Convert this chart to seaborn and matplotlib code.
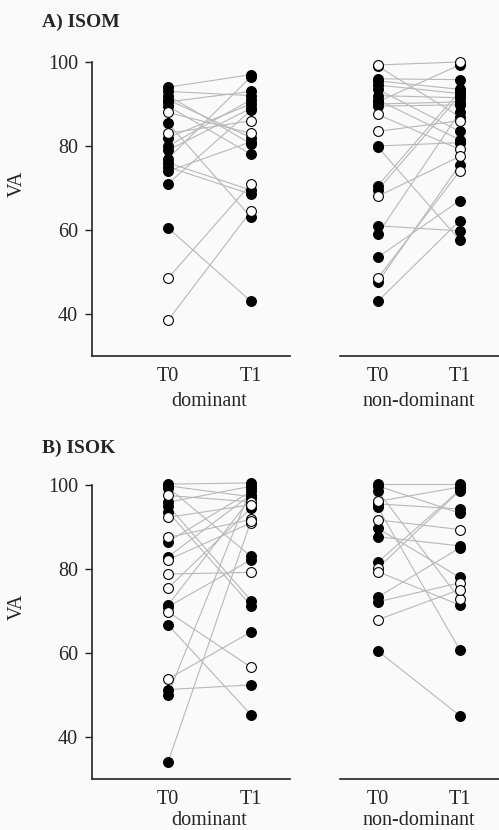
import numpy as np
import pandas as pd
import matplotlib
matplotlib.use('Agg')
import matplotlib.pyplot as plt
import seaborn as sns

times = ['T0', 'T1']
sides = ['dominant', 'non-dominant']

# A) ISOM - dominant
isom_dom_t0 = [94, 93, 92, 91, 90.5, 89.5, 88, 85.5, 83, 82, 80, 79, 77, 76, 75, 74, 71, 60.5, 48.5, 38.5]
isom_dom_t1 = [97, 92, 80.5, 82, 93, 78, 83, 63, 86, 90, 91, 89, 96.5, 69.5, 68.5, 81, 88.5, 43, 71, 64.5]
isom_dom_open0 = [0, 0, 0, 0, 0, 0, 1, 0, 1, 0, 0, 0, 0, 0, 0, 0, 0, 0, 1, 1]
isom_dom_open1 = [0, 0, 0, 0, 0, 0, 1, 0, 1, 0, 0, 0, 0, 0, 0, 0, 0, 0, 1, 1]

# A) ISOM - non-dominant
isom_nd_t0 = [99.3, 99, 96, 95.5, 94.5, 93.5, 92, 91, 90, 89.5, 87.5, 83.5, 80, 79.8,
              70.5, 69.5, 68, 61, 59, 53.5, 48.5, 47.5, 43, 90.5]
isom_nd_t1 = [100, 87, 95.8, 93.5, 92.5, 83.5, 91.5, 81.5, 90.5, 89.8, 79.2, 86, 80.8, 57.6,
              93, 92, 77.5, 59.8, 88, 67, 74, 75.5, 62.2, 99.3]
isom_nd_open0 = [1, 0, 0, 0, 0, 0, 0, 0, 0, 0, 1, 1, 0, 0, 0, 0, 1, 0, 0, 0, 1, 0, 0, 0]
isom_nd_open1 = [1, 0, 0, 0, 0, 0, 0, 0, 0, 0, 1, 1, 0, 0, 0, 0, 1, 0, 0, 0, 1, 0, 0, 0]

# B) ISOK - dominant
isok_dom_t0 = [100.2, 99.4, 97.5, 95.9, 95.1, 93.6, 92.3, 87.5, 86.5, 82.9, 82.2, 78.8,
               75.4, 71.4, 71, 69.8, 66.7, 53.8, 51.3, 50, 34, 99.8]
isok_dom_t1 = [100.5, 83, 96, 99.7, 72.5, 71.3, 95.3, 91.8, 98.5, 97.7, 91, 79.2,
               94.5, 97, 82.2, 56.6, 45.3, 65, 52.4, 99.2, 91.5, 97.2]
isok_dom_open0 = [0, 0, 1, 0, 0, 0, 1, 1, 0, 0, 1, 1, 1, 0, 0, 1, 0, 1, 0, 0, 0, 0]
isok_dom_open1 = [0, 0, 1, 0, 0, 0, 1, 1, 0, 0, 1, 1, 0, 0, 0, 1, 0, 0, 0, 0, 1, 0]

# B) ISOK - non-dominant
isok_nd_t0 = [100.2, 99.8, 98.6, 96.1, 95.5, 94.7, 91.7, 89.7, 87.7, 81.6, 80.2, 79.4, 73.3, 72.2, 67.9, 60.5]
isok_nd_t1 = [100.2, 93.3, 72.9, 99.5, 94.3, 60.8, 89.4, 78, 85.5, 98.8, 98.6, 71.4, 85, 76.7, 75.1, 45.1]
isok_nd_open0 = [0, 0, 0, 1, 0, 0, 1, 0, 0, 0, 1, 1, 0, 0, 1, 0]
isok_nd_open1 = [0, 0, 1, 0, 0, 0, 1, 0, 0, 0, 0, 0, 0, 1, 1, 0]

sns.set_style('white')
plt.rcParams['font.family'] = ['Liberation Serif', 'DejaVu Serif']
FS = 14.5

H = 830.0
W = 499.0
AX_PX = 72 * 4.2  # axes height in pixels (30..102)


def long_df(t0, t1, open0, open1):
    rows = []
    for i in range(len(t0)):
        rows.append({'subject': i, 'x': 0, 'va': t0[i], 'open': open0[i]})
        rows.append({'subject': i, 'x': 1, 'va': t1[i], 'open': open1[i]})
    return pd.DataFrame(rows)


def draw_side(ax, t0, t1, open0, open1, label, xlim, left, label_off):
    df = long_df(t0, t1, open0, open1)
    sns.lineplot(data=df, x='x', y='va', units='subject', estimator=None,
                 color='#b8b8b8', lw=0.8, ax=ax, legend=False, zorder=1)
    sns.scatterplot(data=df[df['open'] == 0], x='x', y='va', color='black',
                    edgecolor='black', linewidth=0.8, s=50, ax=ax, zorder=3)
    sns.scatterplot(data=df[df['open'] == 1], x='x', y='va', color='white',
                    edgecolor='black', linewidth=0.8, s=50, ax=ax, zorder=3)
    ax.set_facecolor('none')
    ax.set_xlim(*xlim)
    ax.set_ylim(30, 102)
    ax.set_xticks([0, 1], times)
    ax.tick_params(axis='x', length=0, pad=8, labelsize=FS)
    ax.set_xlabel(label, fontsize=FS)
    ax.xaxis.label.set_va('baseline')
    ax.xaxis.set_label_coords((0.5 - xlim[0]) / (xlim[1] - xlim[0]), -label_off / AX_PX)
    for s in ['top', 'right']:
        ax.spines[s].set_visible(False)
    ax.spines['bottom'].set_color('#222222')
    ax.spines['bottom'].set_linewidth(1.2)
    if left:
        ax.spines['left'].set_bounds(30, 100)
        ax.spines['left'].set_color('#222222')
        ax.spines['left'].set_linewidth(1.2)
        ax.set_yticks([40, 60, 80, 100])
        ax.tick_params(axis='y', left=True, length=5, width=1, color='#222222',
                       pad=5, labelsize=FS)
        ax.set_ylabel('VA', fontsize=FS)
        ax.yaxis.set_label_coords(-0.33, 0.57)
    else:
        ax.spines['left'].set_visible(False)
        ax.set_yticks([])
        ax.set_ylabel('')


fig = plt.figure(figsize=(4.99, 8.30), dpi=100)
fig.patch.set_facecolor('#fafafa')

ax_h = AX_PX / H
left_x, left_w = 92 / W, 198 / W
right_x, right_w = 340 / W, 159 / W
xlim_l = (-0.916, 1.47)
xlim_r = (-0.46, 1.48)

panels = [
    ('A) ISOM', 356, 22.5, 50,
     (isom_dom_t0, isom_dom_t1, isom_dom_open0, isom_dom_open1),
     (isom_nd_t0, isom_nd_t1, isom_nd_open0, isom_nd_open1)),
    ('B) ISOK', 779, 448, 46,
     (isok_dom_t0, isok_dom_t1, isok_dom_open0, isok_dom_open1),
     (isok_nd_t0, isok_nd_t1, isok_nd_open0, isok_nd_open1)),
]

for title, bottom_px, title_px, lab_off, dom, nd in panels:
    b = 1 - bottom_px / H
    ax1 = fig.add_axes([left_x, b, left_w, ax_h])
    ax2 = fig.add_axes([right_x, b, right_w, ax_h])
    draw_side(ax1, *dom, sides[0], xlim_l, True, lab_off)
    draw_side(ax2, *nd, sides[1], xlim_r, False, lab_off)
    fig.text(42 / W, 1 - title_px / H, title, fontsize=14, fontweight='bold',
             ha='left', va='center')

fig.savefig('out.png', dpi=100, facecolor=fig.get_facecolor())
